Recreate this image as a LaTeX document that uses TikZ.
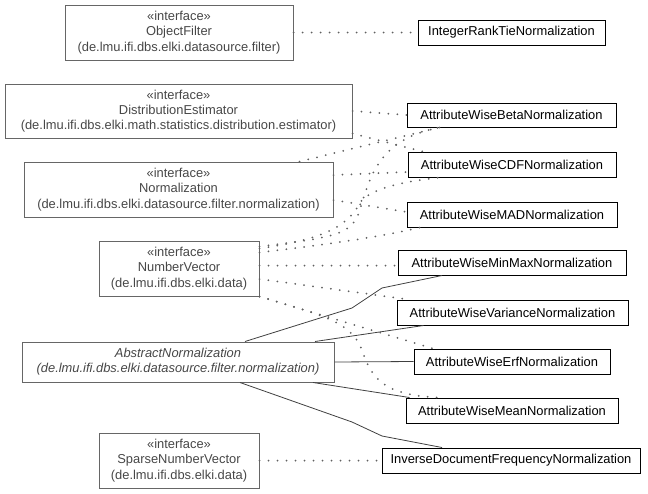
\documentclass[tikz,border=0pt]{standalone}
\usepackage{fontspec}
\setmainfont{Liberation Sans}
\begin{document}
\begin{tikzpicture}[x=1pt,y=-1pt,
  iface/.style={draw=black!60, line width=1pt, text=black!72, align=center, inner sep=0pt,
    font=\fontsize{12.9}{15.2}\selectfont},
  cls/.style={draw=black, line width=1pt, text=black, inner sep=0pt, minimum height=25pt,
    font=\fontsize{12.9}{15.2}\selectfont},
  dep/.style={draw=black!62, line width=2pt, line cap=round, dash pattern=on 0pt off 9pt},
  gen/.style={draw=black!75, line width=0.8pt}]
\useasboundingbox (0,0) rectangle (648,493);
% left column
\node[iface, minimum width=228pt, minimum height=55pt] (of) at (179,32.5)
  {«interface»\\ObjectFilter\\(de.lmu.ifi.dbs.elki.datasource.filter)};
\node[iface, minimum width=347pt, minimum height=54pt] (de) at (178.5,111)
  {«interface»\\DistributionEstimator\\(de.lmu.ifi.dbs.elki.math.statistics.distribution.estimator)};
\node[iface, minimum width=309pt, minimum height=55pt] (no) at (178.5,189.5)
  {«interface»\\Normalization\\(de.lmu.ifi.dbs.elki.datasource.filter.normalization)};
\node[iface, minimum width=160pt, minimum height=55pt] (nv) at (179,268.5)
  {«interface»\\NumberVector\\(de.lmu.ifi.dbs.elki.data)};
\node[iface, minimum width=312pt, minimum height=40pt, font=\fontsize{12.9}{15.2}\selectfont\itshape] (an) at (178,362)
  {AbstractNormalization\\(de.lmu.ifi.dbs.elki.datasource.filter.normalization)};
\node[iface, minimum width=160pt, minimum height=55pt] (sn) at (179,460.5)
  {«interface»\\SparseNumberVector\\(de.lmu.ifi.dbs.elki.data)};
% right column
\node[cls, minimum width=187pt] (ir) at (511.5,32.5) {IntegerRankTieNormalization};
\node[cls, minimum width=209pt, minimum height=24pt] (be) at (511.5,115) {AttributeWiseBetaNormalization};
\node[cls, minimum width=208pt] (cd) at (512,164.5) {AttributeWiseCDFNormalization};
\node[cls, minimum width=210pt] (ma) at (512,214.5) {AttributeWiseMADNormalization};
\node[cls, minimum width=228pt] (mm) at (512,262.5) {AttributeWiseMinMaxNormalization};
\node[cls, minimum width=231pt] (va) at (512.5,312.5) {AttributeWiseVarianceNormalization};
\node[cls, minimum width=196pt] (er) at (512,361.5) {AttributeWiseErfNormalization};
\node[cls, minimum width=212pt] (me) at (512,410.5) {AttributeWiseMeanNormalization};
\node[cls, minimum width=258pt] (idf) at (511,460.5) {InverseDocumentFrequencyNormalization};
% solid connectors
\draw[gen] ([xshift=67pt]an.north) -- (352,308) -- (382,288) -- ([xshift=-70pt]mm.south);
\draw[gen] ([xshift=137pt]an.north) -- ([xshift=-89pt]va.south);
\draw[gen] (an.east) -- (er.west);
\draw[gen] ([xshift=135pt]an.south) -- ([xshift=4pt]me.north west);
\draw[gen] ([xshift=62pt]an.south) -- (352,422) -- (382,436) -- ([xshift=-69pt]idf.north);
% dotted connectors
\draw[dep] (of.east) -- (ir.west);
\draw[dep] (de.east) -- (be.west);
\draw[dep] (sn.east) -- (idf.west);
\draw[dep] ([yshift=5pt]de.south east) -- ([xshift=15pt]cd.north west);
\draw[dep] ([xshift=121pt]no.north) -- ([xshift=-72pt]be.south);
\draw[dep] ([yshift=14.5pt]no.east) -- ([yshift=-7.5pt]cd.west);
\draw[dep] ([yshift=-10.5pt]no.east) -- ([yshift=2.5pt]ma.west);
\draw[dep] ([yshift=-6pt]nv.north east) .. controls (330,238) and (350,235) .. (358,215)
  .. controls (370,180) and (375,140) .. ([xshift=-72pt]be.south);
\draw[dep] ([yshift=-8pt]nv.north east) .. controls (330,238) and (348,225) .. (362,200)
  .. controls (375,188) and (400,182) .. ([xshift=-72pt]cd.south);
\draw[dep] ([yshift=-12pt]nv.north east) .. controls (330,244) and (380,237) .. ([xshift=-92pt]ma.south);
\coordinate (mmin) at ([yshift=-3pt]mm.west);
\draw[dep] (nv.east |- mmin) -- (mmin);
\draw[dep] ([yshift=-10.5pt]nv.east) -- ([xshift=12pt]va.north west);
\draw[dep] (nv.south east) -- ([xshift=-79pt]er.north);
\draw[dep] (nv.south east) .. controls (320,315) and (350,320) .. (362,350)
  .. controls (372,380) and (385,395) .. ([xshift=-74pt]me.north);
\end{tikzpicture}
\end{document}
